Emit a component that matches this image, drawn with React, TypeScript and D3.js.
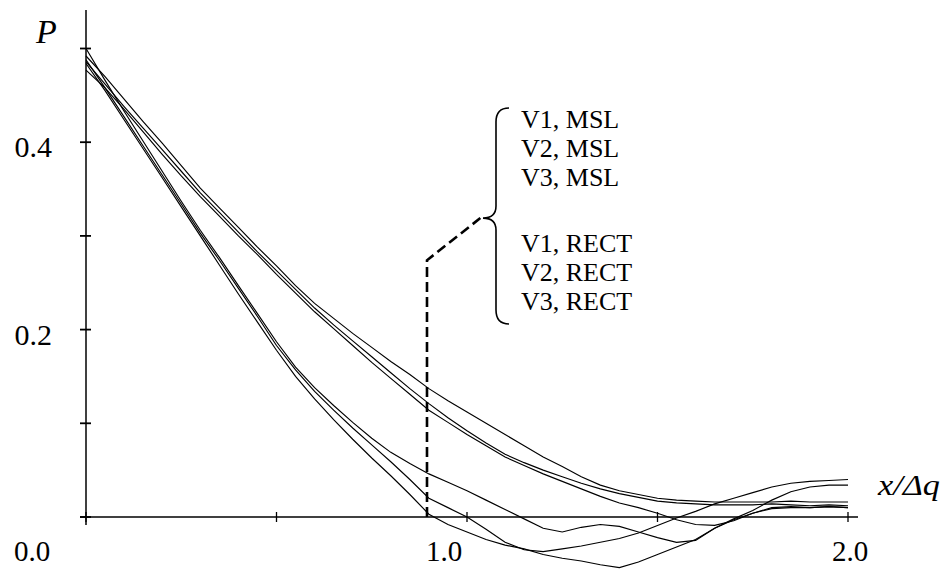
import React from "react";
import * as d3 from "d3";

// x / Δq sample positions
const X_VALUES = [
  0.0, 0.05, 0.1, 0.15, 0.2, 0.25, 0.3, 0.35, 0.4, 0.45,
  0.5, 0.55, 0.6, 0.65, 0.7, 0.75, 0.8, 0.85, 0.9, 0.95,
  1.0, 1.05, 1.1, 1.15, 1.2, 1.25, 1.3, 1.35, 1.4, 1.45,
  1.5, 1.55, 1.6, 1.65, 1.7, 1.75, 1.8, 1.85, 1.9, 1.95, 2.0,
];

// MSL curves (shallower decay)
const V1_MSL = [
  0.492, 0.470, 0.446, 0.422, 0.399, 0.375, 0.351, 0.330, 0.309, 0.288,
  0.268, 0.247, 0.228, 0.212, 0.196, 0.181, 0.166, 0.152, 0.137, 0.124,
  0.112, 0.100, 0.088, 0.076, 0.064, 0.054, 0.043, 0.034, 0.028, 0.024,
  0.020, 0.018, 0.017, 0.016, 0.016, 0.016, 0.016, 0.017, 0.016, 0.016, 0.016,
];
const V2_MSL = [
  0.486, 0.462, 0.438, 0.415, 0.392, 0.369, 0.346, 0.325, 0.304, 0.283,
  0.263, 0.243, 0.223, 0.205, 0.188, 0.171, 0.154, 0.137, 0.121, 0.106,
  0.092, 0.079, 0.067, 0.058, 0.050, 0.043, 0.036, 0.030, 0.025, 0.021,
  0.017, 0.015, 0.014, 0.013, 0.013, 0.013, 0.014, 0.013, 0.012, 0.013, 0.012,
];
const V3_MSL = [
  0.477, 0.458, 0.435, 0.411, 0.387, 0.364, 0.342, 0.321, 0.300, 0.280,
  0.259, 0.239, 0.219, 0.201, 0.183, 0.165, 0.148, 0.131, 0.114, 0.101,
  0.088, 0.076, 0.064, 0.055, 0.046, 0.038, 0.030, 0.022, 0.015, 0.010,
  0.004, -0.003, -0.008, -0.009, -0.004, 0.004, 0.010, 0.011, 0.010, 0.011, 0.010,
];

// RECT curves (steeper decay, undershoot below zero)
const V1_RECT = [
  0.500, 0.466, 0.433, 0.401, 0.369, 0.337, 0.306, 0.277, 0.247, 0.217,
  0.187, 0.160, 0.138, 0.119, 0.101, 0.084, 0.069, 0.057, 0.046, 0.037,
  0.028, 0.018, 0.008, -0.002, -0.012, -0.016, -0.011, -0.008, -0.010, -0.016,
  -0.022, -0.027, -0.025, -0.012, -0.003, 0.004, 0.009, 0.010, 0.010, 0.011, 0.010,
];
const V2_RECT = [
  0.488, 0.458, 0.427, 0.396, 0.365, 0.334, 0.303, 0.274, 0.244, 0.214,
  0.183, 0.157, 0.134, 0.114, 0.095, 0.077, 0.059, 0.040, 0.020, 0.010,
  0.000, -0.013, -0.027, -0.035, -0.037, -0.034, -0.031, -0.027, -0.023, -0.017,
  -0.009, -0.001, 0.006, 0.014, 0.020, 0.026, 0.032, 0.036, 0.038, 0.039, 0.040,
];
const V3_RECT = [
  0.484, 0.455, 0.424, 0.393, 0.362, 0.331, 0.300, 0.269, 0.238, 0.208,
  0.178, 0.150, 0.126, 0.104, 0.083, 0.063, 0.044, 0.024, 0.003, -0.008,
  -0.016, -0.024, -0.030, -0.034, -0.040, -0.044, -0.047, -0.051, -0.054, -0.048,
  -0.040, -0.032, -0.024, -0.012, -0.002, 0.007, 0.018, 0.027, 0.032, 0.034, 0.034,
];

const SERIES = [V1_MSL, V2_MSL, V3_MSL, V1_RECT, V2_RECT, V3_RECT];

const LEGEND_MSL = ["V1, MSL", "V2, MSL", "V3, MSL"];
const LEGEND_RECT = ["V1, RECT", "V2, RECT", "V3, RECT"];

const Y_TICKS = [0, 0.1, 0.2, 0.3, 0.4, 0.5];
const Y_TICK_LABELS = [
  { v: 0.2, t: "0.2" },
  { v: 0.4, t: "0.4" },
];
const X_TICKS = [0, 0.5, 1.0, 1.5, 2.0];
const X_TICK_LABELS = [
  { v: 0.0, t: "0.0", dx: -54 },
  { v: 1.0, t: "1.0", dx: -23 },
  { v: 2.0, t: "2.0", dx: 2 },
];

// annotation connector (data coordinates)
const CONNECTOR_X = 0.895;
const CONNECTOR_TOP = 0.274;
const CONNECTOR_END = [1.035, 0.319];

const FONT = "'Liberation Serif', 'Times New Roman', Times, serif";

export default function App() {
  const W = 948;
  const H = 569;
  const x = d3.scaleLinear().domain([0, 2]).range([86, 848]);
  const y = d3.scaleLinear().domain([0, 0.5]).range([517, 48.5]);

  const line = d3
    .line<number>()
    .x((_, i) => x(X_VALUES[i]))
    .y((d) => y(d))
    .curve(d3.curveLinear);

  const tStyle = { fontFamily: FONT };

  // brace geometry
  const bx = 496;
  const bTop = 108;
  const bBot = 324;
  const bMid = y(CONNECTOR_END[1]);
  const tipX = 483;
  const brace = `M ${bx + 13} ${bTop} Q ${bx} ${bTop} ${bx} ${bTop + 14} L ${bx} ${bMid - 12} Q ${bx} ${bMid} ${tipX} ${bMid} Q ${bx} ${bMid} ${bx} ${bMid + 12} L ${bx} ${bBot - 14} Q ${bx} ${bBot} ${bx + 13} ${bBot}`;

  const legendX = 521;
  const mslBase = 128;
  const rectBase = 252;
  const lh = 29;

  return (
    <svg
      width={W}
      height={H}
      style={{ position: "absolute", left: 0, top: 0, background: "#fff" }}
    >
      <rect width={W} height={H} fill="#fff" />
      {/* axes */}
      <line x1={x(0)} x2={x(0)} y1={10} y2={y(0) + 8} stroke="#000" strokeWidth={1.5} />
      <line x1={x(0) - 6} x2={858} y1={y(0)} y2={y(0)} stroke="#000" strokeWidth={1.6} />
      {Y_TICKS.map((t) => (
        <line key={"yt" + t} x1={x(0) - 6} x2={x(0) + 5} y1={y(t)} y2={y(t)} stroke="#000" strokeWidth={1.8} />
      ))}
      {X_TICKS.map((t) => (
        <line key={"xt" + t} x1={x(t)} x2={x(t)} y1={y(0) - 5} y2={y(0) + 5} stroke="#000" strokeWidth={1.3} />
      ))}
      {Y_TICK_LABELS.map((d) => (
        <text key={"yl" + d.t} x={52} y={y(d.v) + 15} fontSize={30} textAnchor="end" fill="#000" style={tStyle}>
          {d.t}
        </text>
      ))}
      {X_TICK_LABELS.map((d) => (
        <text key={"xl" + d.t} x={x(d.v) + d.dx} y={561} fontSize={29} textAnchor="middle" fill="#000" style={tStyle}>
          {d.t}
        </text>
      ))}
      <text x={36} y={43} fontSize={34} fontStyle="italic" fill="#000" style={tStyle}>
        P
      </text>
      <g transform="translate(878,495) scale(1.18,1)">
        <text x={0} y={0} fontSize={29} fontStyle="italic" fill="#000" style={tStyle}>
          x/Δq
        </text>
      </g>

      {/* curves */}
      {SERIES.map((s, i) => (
        <path key={"s" + i} d={line(s) || ""} fill="none" stroke="#000" strokeWidth={1.15} />
      ))}

      {/* dashed connector */}
      <path
        d={`M ${x(CONNECTOR_X)} ${y(0)} L ${x(CONNECTOR_X)} ${y(CONNECTOR_TOP)} L ${x(CONNECTOR_END[0])} ${y(CONNECTOR_END[1])}`}
        fill="none"
        stroke="#000"
        strokeWidth={2.6}
        strokeDasharray="10 5"
      />
      {/* brace */}
      <path d={brace} fill="none" stroke="#000" strokeWidth={1.6} />

      {/* legend */}
      {LEGEND_MSL.map((t, i) => (
        <text key={t} x={legendX} y={mslBase + i * lh} fontSize={26} fill="#000" style={tStyle}>
          {t}
        </text>
      ))}
      {LEGEND_RECT.map((t, i) => (
        <text key={t} x={legendX} y={rectBase + i * lh} fontSize={26} fill="#000" style={tStyle}>
          {t}
        </text>
      ))}
    </svg>
  );
}
